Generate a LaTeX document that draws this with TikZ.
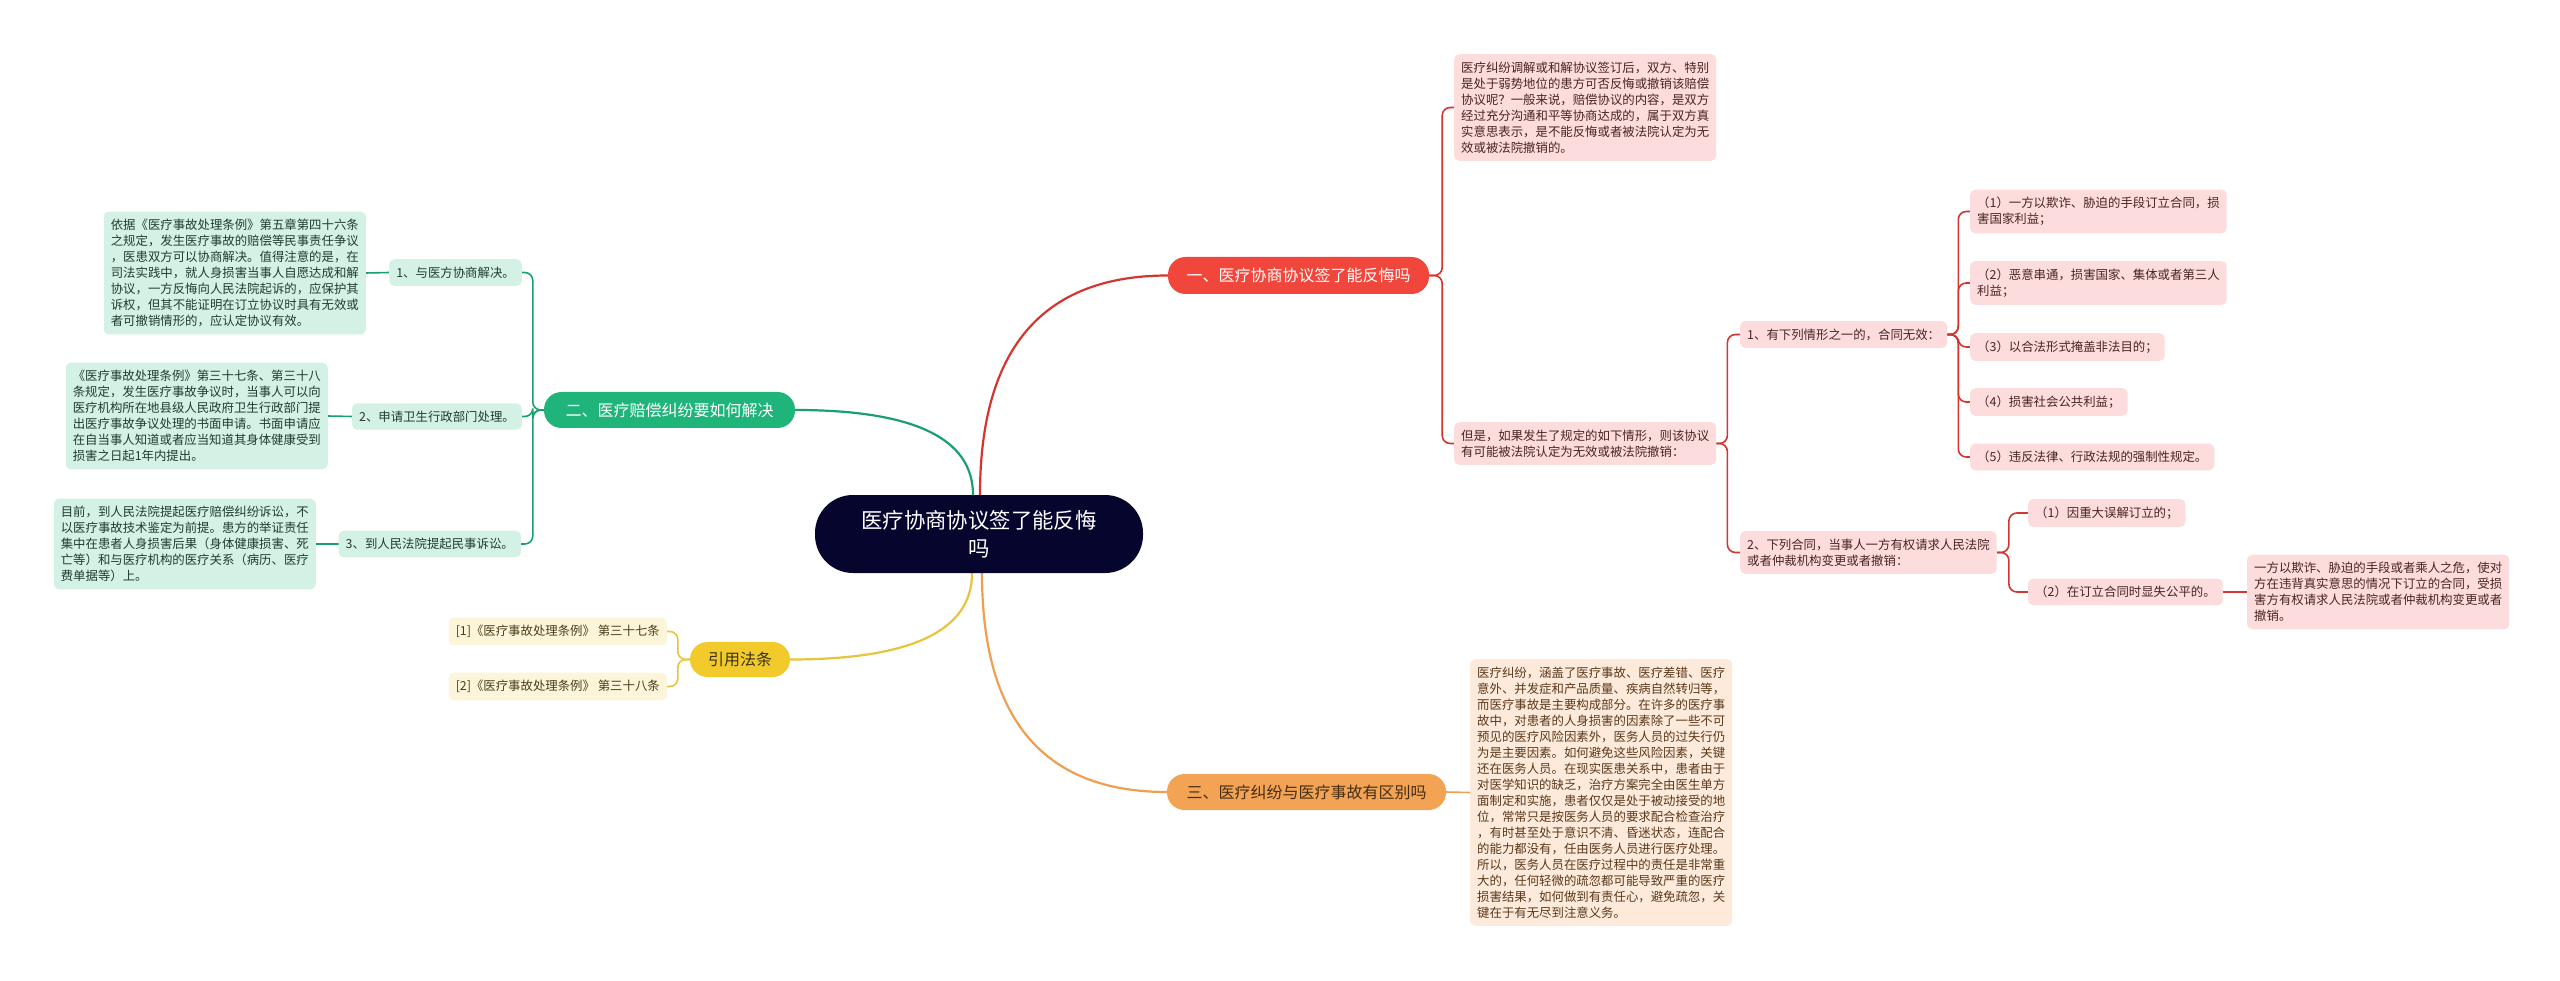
\documentclass[tikz,border=0pt]{standalone}
\usepackage{fontspec}
\newfontfamily\cjk{Noto Sans CJK SC}
\usetikzlibrary{calc}
\definecolor{cnavy}{HTML}{05052E}
\definecolor{redfill}{HTML}{F0463C}
\definecolor{redline}{HTML}{D43530}
\definecolor{redbox}{HTML}{FCDCDC}
\definecolor{redtext}{HTML}{4A2323}
\definecolor{grnfill}{HTML}{1FB47A}
\definecolor{grnline}{HTML}{1BA06D}
\definecolor{grnbox}{HTML}{D3F2E5}
\definecolor{grntext}{HTML}{223A30}
\definecolor{ylwfill}{HTML}{F2CA2B}
\definecolor{ylwline}{HTML}{E8C43A}
\definecolor{ylwbox}{HTML}{FDF5DA}
\definecolor{ylwtext}{HTML}{4A3F1C}
\definecolor{orgfill}{HTML}{F3A354}
\definecolor{orgline}{HTML}{EE9F50}
\definecolor{orgbox}{HTML}{FDEADB}
\definecolor{orgtext}{HTML}{5A381A}
\pgfdeclarelayer{bg}
\pgfsetlayers{bg,main}
\begin{document}
\begin{tikzpicture}[x=1pt,y=-1pt,
  box/.style={font={\cjk\fontsize{12.4}{16}\selectfont}, align=left, inner xsep=7pt, inner ysep=7.5pt, rounded corners=5pt},
  rbox/.style={box, fill=redbox, text=redtext},
  gbox/.style={box, fill=grnbox, text=grntext},
  ybox/.style={box, fill=ylwbox, text=ylwtext},
  obox/.style={box, fill=orgbox, text=orgtext},
  branch/.style={font={\cjk\fontsize{16}{20}\selectfont}, inner sep=0pt, rounded corners=17.5pt},
  conn/.style={line width=1.6pt, rounded corners=8pt},
  mainconn/.style={line width=2.2pt}
]
\useasboundingbox (0,0) rectangle (2560,981);

% center
\node[font={\cjk\fontsize{21.4}{28}\selectfont}, align=center, text=white, fill=cnavy,
  minimum width=328pt, minimum height=78pt, rounded corners=38pt, inner sep=0pt] (c) at (979,534)
  {医疗协商协议签了能反悔\\吗};

% branches
\node[branch, fill=redfill, text=white, minimum width=261pt, minimum height=37pt] (b1) at (1298.5,275.5) {一、医疗协商协议签了能反悔吗};
\node[branch, fill=grnfill, text=white, minimum width=251pt, minimum height=36pt] (b2) at (669.5,410) {二、医疗赔偿纠纷要如何解决};
\node[branch, fill=orgfill, text=orgtext!80!black, minimum width=279pt, minimum height=36pt] (b3) at (1306.5,792) {三、医疗纠纷与医疗事故有区别吗};
\node[branch, fill=ylwfill, text=ylwtext!80!black, minimum width=100pt, minimum height=35pt] (b4) at (740,659.5) {引用法条};

% branch 1 children
\node[rbox, anchor=west] (A) at (1454,107.5) {医疗纠纷调解或和解协议签订后，双方、特别\\是处于弱势地位的患方可否反悔或撤销该赔偿\\协议呢？一般来说，赔偿协议的内容，是双方\\经过充分沟通和平等协商达成的，属于双方真\\实意思表示，是不能反悔或者被法院认定为无\\效或被法院撤销的。};
\node[rbox, anchor=west] (B) at (1454,443.5) {但是，如果发生了规定的如下情形，则该协议\\有可能被法院认定为无效或被法院撤销：};
\node[rbox, anchor=west] (C1) at (1740,334.5) {1、有下列情形之一的，合同无效：};
\node[rbox, anchor=west] (C2) at (1740,552.5) {2、下列合同，当事人一方有权请求人民法院\\或者仲裁机构变更或者撤销：};
\node[rbox, anchor=west] (D1) at (1970,211.5) {（1）一方以欺诈、胁迫的手段订立合同，损\\害国家利益；};
\node[rbox, anchor=west] (D2) at (1970,283) {（2）恶意串通，损害国家、集体或者第三人\\利益；};
\node[rbox, anchor=west] (D3) at (1970,347) {（3）以合法形式掩盖非法目的；};
\node[rbox, anchor=west] (D4) at (1970,402) {（4）损害社会公共利益；};
\node[rbox, anchor=west] (D5) at (1970,457) {（5）违反法律、行政法规的强制性规定。};
\node[rbox, anchor=west] (E1) at (2028,513) {（1）因重大误解订立的；};
\node[rbox, anchor=west] (E2) at (2028,592) {（2）在订立合同时显失公平的。};
\node[rbox, anchor=west] (F) at (2247,592) {一方以欺诈、胁迫的手段或者乘人之危，使对\\方在违背真实意思的情况下订立的合同，受损\\害方有权请求人民法院或者仲裁机构变更或者\\撤销。};

% branch 3 child
\node[obox, anchor=west] (G) at (1470,792.5) {医疗纠纷，涵盖了医疗事故、医疗差错、医疗\\意外、并发症和产品质量、疾病自然转归等，\\而医疗事故是主要构成部分。在许多的医疗事\\故中，对患者的人身损害的因素除了一些不可\\预见的医疗风险因素外，医务人员的过失行仍\\为是主要因素。如何避免这些风险因素，关键\\还在医务人员。在现实医患关系中，患者由于\\对医学知识的缺乏，治疗方案完全由医生单方\\面制定和实施，患者仅仅是处于被动接受的地\\位，常常只是按医务人员的要求配合检查治疗\\，有时甚至处于意识不清、昏迷状态，连配合\\的能力都没有，任由医务人员进行医疗处理。\\所以，医务人员在医疗过程中的责任是非常重\\大的，任何轻微的疏忽都可能导致严重的医疗\\损害结果，如何做到有责任心，避免疏忽，关\\键在于有无尽到注意义务。};

% branch 2 children
\node[gbox, anchor=east] (H1) at (522,272.5) {1、与医方协商解决。};
\node[gbox, anchor=east] (H2) at (522,416.5) {2、申请卫生行政部门处理。};
\node[gbox, anchor=east] (H3) at (521,544) {3、到人民法院提起民事诉讼。};
\node[gbox, anchor=east] (I1) at (366,273) {依据《医疗事故处理条例》第五章第四十六条\\之规定，发生医疗事故的赔偿等民事责任争议\\，医患双方可以协商解决。值得注意的是，在\\司法实践中，就人身损害当事人自愿达成和解\\协议，一方反悔向人民法院起诉的，应保护其\\诉权，但其不能证明在订立协议时具有无效或\\者可撤销情形的，应认定协议有效。};
\node[gbox, anchor=east] (I2) at (328,416) {《医疗事故处理条例》第三十七条、第三十八\\条规定，发生医疗事故争议时，当事人可以向\\医疗机构所在地县级人民政府卫生行政部门提\\出医疗事故争议处理的书面申请。书面申请应\\在自当事人知道或者应当知道其身体健康受到\\损害之日起1年内提出。};
\node[gbox, anchor=east] (I3) at (316,544) {目前，到人民法院提起医疗赔偿纠纷诉讼，不\\以医疗事故技术鉴定为前提。患方的举证责任\\集中在患者人身损害后果（身体健康损害、死\\亡等）和与医疗机构的医疗关系（病历、医疗\\费单据等）上。};

% branch 4 children
\node[ybox, anchor=east] (J1) at (667,631.5) {[1]《医疗事故处理条例》 第三十七条};
\node[ybox, anchor=east] (J2) at (667,686.5) {[2]《医疗事故处理条例》 第三十八条};

\begin{pgfonlayer}{bg}
\fill[white] (0,0) rectangle (2560,981);
% main curves
\coordinate (rs) at ([xshift=1pt]c.north);
\coordinate (gs) at ([xshift=-6pt]c.north);
\coordinate (ys) at ([xshift=-7pt]c.south);
\coordinate (os) at ([xshift=3pt]c.south);
\coordinate (rq) at (rs|-b1.west);
\coordinate (gq) at (gs|-b2.east);
\coordinate (yq) at (ys|-b4.east);
\coordinate (oq) at (os|-b3.west);
\draw[mainconn, redline] (rs) .. controls ($(rs)!0.667!(rq)$) and ($(b1.west)!0.667!(rq)$) .. (b1.west);
\draw[mainconn, grnline] (gs) .. controls ($(gs)!0.667!(gq)$) and ($(b2.east)!0.667!(gq)$) .. (b2.east);
\draw[mainconn, ylwline] (ys) .. controls ($(ys)!0.667!(yq)$) and ($(b4.east)!0.667!(yq)$) .. (b4.east);
\draw[mainconn, orgline] (os) .. controls ($(os)!0.667!(oq)$) and ($(b3.west)!0.667!(oq)$) .. (b3.west);

% branch 1 tree
\draw[conn, redline] (b1.east) -- ++(13,0) |- (A.west);
\draw[conn, redline] (b1.east) -- ++(13,0) |- (B.west);
\draw[conn, redline] (B.east) -- ++(11,0) |- (C1.west);
\draw[conn, redline] (B.east) -- ++(11,0) |- (C2.west);
\foreach \d in {D1,D2,D3,D4,D5}
  \draw[conn, redline] (C1.east) -- ++(11,0) |- (\d.west);
\draw[conn, redline] (C2.east) -- ++(12,0) |- (E1.west);
\draw[conn, redline] (C2.east) -- ++(12,0) |- (E2.west);
\draw[conn, redline] (E2.east) -- (F.west);

% branch 3
\draw[conn, orgline] (b3.east) -- (G.west);

% branch 2 tree
\foreach \h in {H1,H2,H3}
  \draw[conn, grnline] (b2.west) -- ++(-11,0) |- (\h.east);
\draw[conn, grnline] (I1.east) -- (H1.west);
\draw[conn, grnline] (I2.east) -- (H2.west);
\draw[conn, grnline] (I3.east) -- (H3.west);

% branch 4 tree
\draw[conn, ylwline] (b4.west) -- ++(-12,0) |- (J1.east);
\draw[conn, ylwline] (b4.west) -- ++(-12,0) |- (J2.east);
\end{pgfonlayer}
\end{tikzpicture}
\end{document}
